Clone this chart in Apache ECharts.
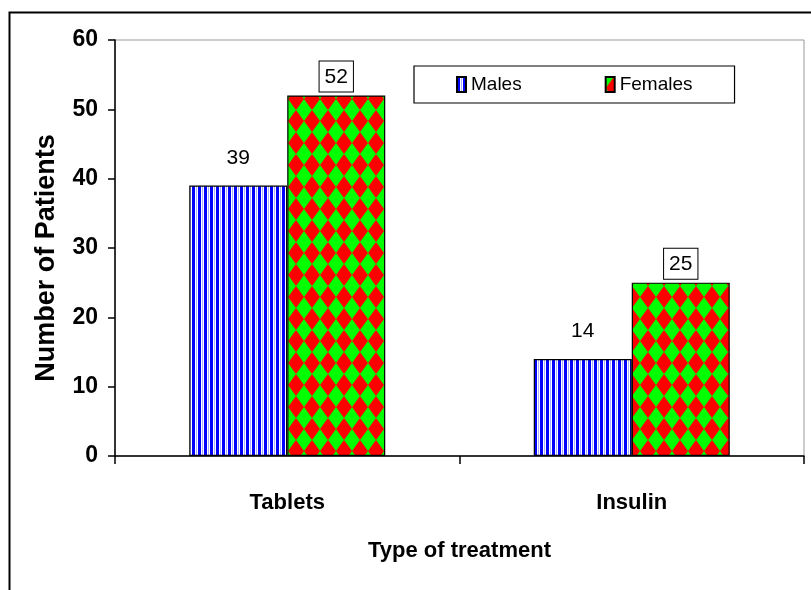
<!DOCTYPE html>
<html>
<head>
<meta charset="utf-8">
<script src="https://cdn.jsdelivr.net/npm/echarts@6/dist/echarts.min.js"></script>
<style>
html,body{margin:0;padding:0;background:#fff;}
#c{width:811px;height:590px;}
</style>
</head>
<body>
<div id="c"></div>
<script>
const categories = ['Tablets', 'Insulin'];
const males = [39, 14];
const females = [52, 25];
const seriesNames = ['Males', 'Females'];
const yMin = 0, yMax = 60, yStep = 10;

function stripePattern() {
  const c = document.createElement('canvas');
  c.width = 6; c.height = 6;
  const g = c.getContext('2d');
  g.fillStyle = '#ffffff'; g.fillRect(0, 0, 6, 6);
  g.fillStyle = '#0000ff'; g.fillRect(0, 0, 3, 6);
  g.fillStyle = '#aab0ff'; g.fillRect(4, 0, 1, 6);
  return c;
}
function diamondPattern() {
  const w = 16, h = 22;
  const c = document.createElement('canvas');
  c.width = w; c.height = h;
  const g = c.getContext('2d');
  g.fillStyle = '#00ff00'; g.fillRect(0, 0, w, h);
  g.fillStyle = '#ff0000';
  g.beginPath();
  g.moveTo(w / 2, 0); g.lineTo(w, h / 2); g.lineTo(w / 2, h); g.lineTo(0, h / 2);
  g.closePath(); g.fill();
  return c;
}

const FONT = 'Liberation Sans, Arial, sans-serif';
const chart = echarts.init(document.getElementById('c'));
chart.setOption({
  animation: false,
  backgroundColor: '#fff',
  graphic: [{
    type: 'rect', silent: true, z: -1,
    shape: { x: 9.5, y: 12.5, width: 900, height: 700 },
    style: { fill: 'none', stroke: '#000', lineWidth: 2 }
  }],
  grid: { left: 115, right: 7, top: 40, bottom: 134, show: true, borderColor: '#999', borderWidth: 1, backgroundColor: 'transparent' },
  legend: {
    left: 414, top: 66,
    data: seriesNames,
    icon: 'rect', itemWidth: 9, itemHeight: 15, itemGap: 83,
    padding: [9, 42, 9, 42],
    borderColor: '#000', borderWidth: 1.2,
    textStyle: { fontFamily: FONT, fontSize: 19, color: '#000' }
  },
  xAxis: {
    type: 'category', data: categories,
    name: 'Type of treatment', nameLocation: 'middle', nameGap: 84,
    nameTextStyle: { fontFamily: FONT, fontSize: 22, fontWeight: 'bold', color: '#000' },
    axisLine: { lineStyle: { color: '#000', width: 1.5 } },
    axisTick: { show: true, length: 8, lineStyle: { color: '#000', width: 1.5 } },
    axisLabel: { margin: 36, fontFamily: FONT, fontSize: 22, fontWeight: 'bold', color: '#000' }
  },
  yAxis: {
    type: 'value', min: yMin, max: yMax, interval: yStep,
    name: 'Number of Patients', nameLocation: 'middle', nameGap: 55,
    nameTextStyle: { fontFamily: FONT, fontSize: 27, fontWeight: 'bold', color: '#000', padding: [0, 20, 0, 0] },
    axisLine: { show: true, lineStyle: { color: '#000', width: 1.5 } },
    axisTick: { show: true, length: 7, lineStyle: { color: '#000', width: 1.5 } },
    axisLabel: { margin: 17, fontFamily: FONT, fontSize: 23, fontWeight: 'bold', color: '#000' },
    splitLine: { show: false }
  },
  series: [
    {
      name: seriesNames[0], type: 'bar', data: males,
      barWidth: 98, barGap: '0%',
      itemStyle: { color: { image: stripePattern(), repeat: 'repeat' }, borderColor: '#000', borderWidth: 1.2 },
      label: { show: true, position: 'top', distance: 17, fontFamily: FONT, fontSize: 21, color: '#000' }
    },
    {
      name: seriesNames[1], type: 'bar', data: females,
      barWidth: 98,
      itemStyle: { color: { image: diamondPattern(), repeat: 'repeat' }, borderColor: '#000', borderWidth: 1.2 },
      label: {
        show: true, position: 'top', distance: 4, fontFamily: FONT, fontSize: 21, color: '#000',
        backgroundColor: '#fff', borderColor: '#000', borderWidth: 1, padding: [5, 5, 4, 5]
      }
    }
  ]
});
</script>
</body>
</html>
